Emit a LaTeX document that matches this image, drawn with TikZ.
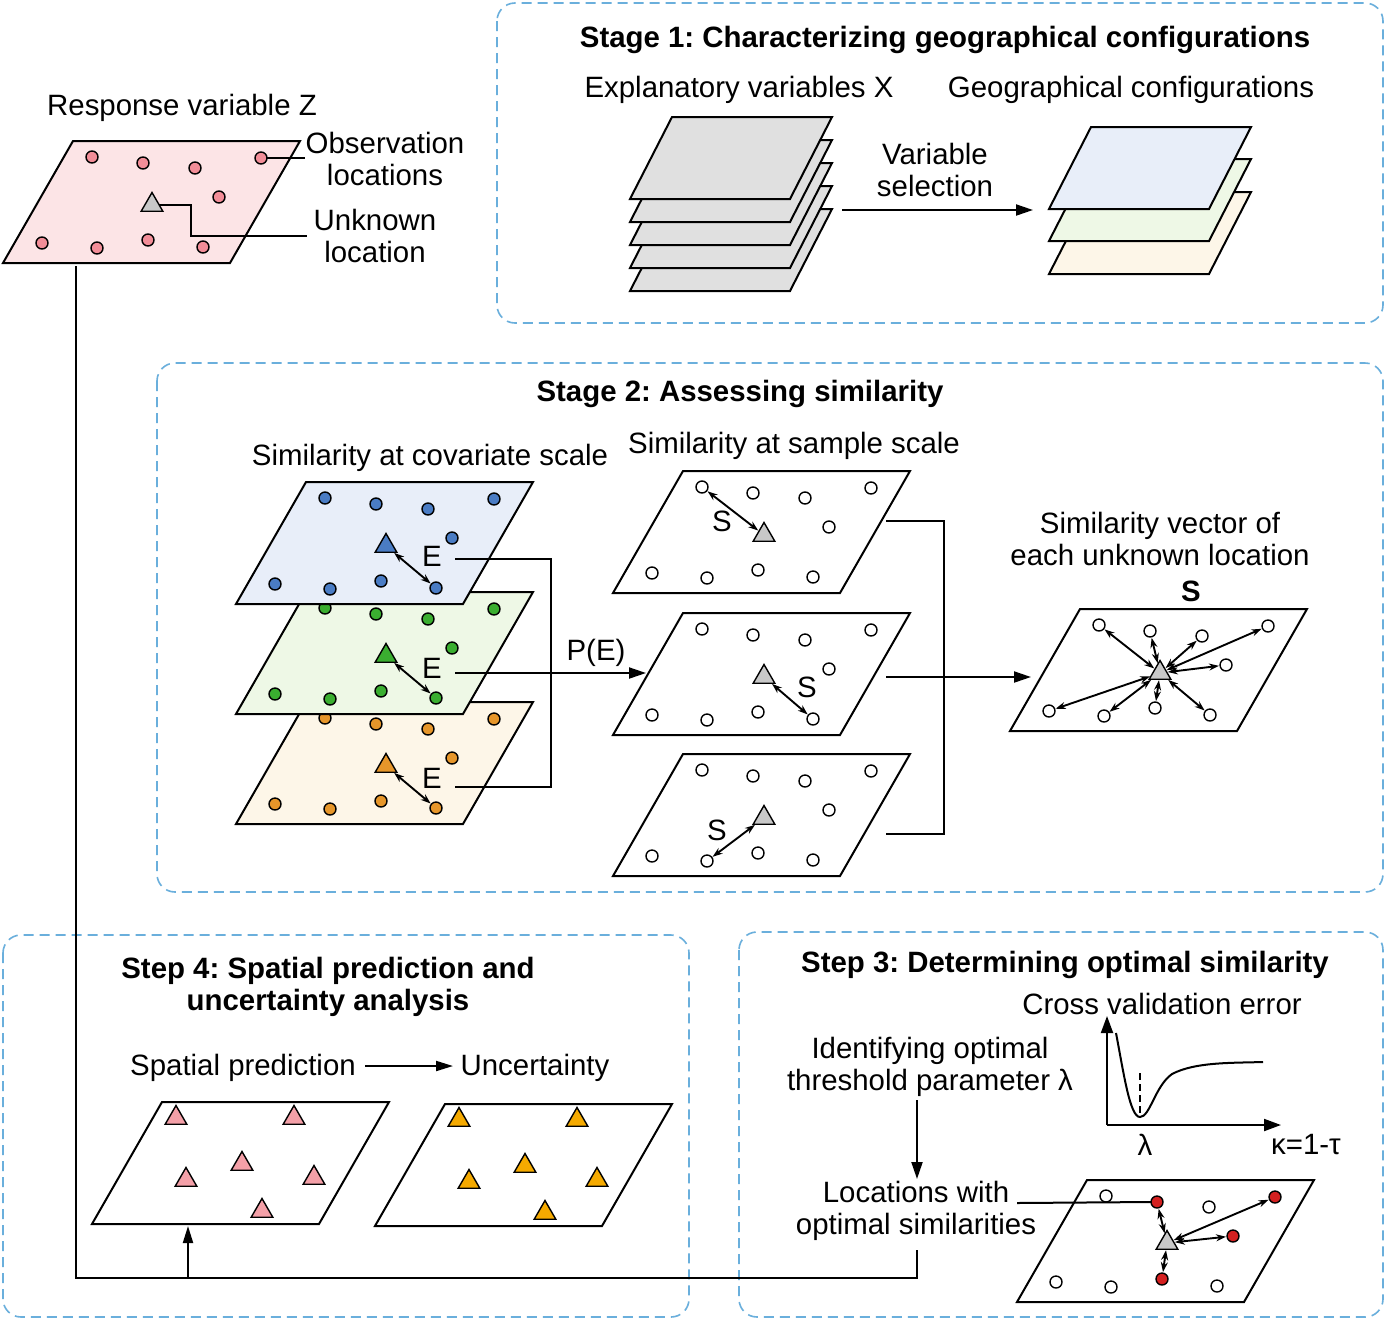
\documentclass[tikz,border=0pt]{standalone}
\usepackage{fontspec}
\setmainfont{Liberation Sans}
\usetikzlibrary{shapes.geometric,arrows.meta}
\definecolor{dashblue}{HTML}{6AAFDC}
\definecolor{planepink}{HTML}{FCE4E6}
\definecolor{dotpink}{HTML}{F28D98}
\definecolor{planeblue}{HTML}{E8EEF9}
\definecolor{dotblue}{HTML}{4A7CC4}
\definecolor{planegreen}{HTML}{EEF8E6}
\definecolor{dotgreen}{HTML}{3AAE30}
\definecolor{planeorange}{HTML}{FDF6E8}
\definecolor{dotorange}{HTML}{E6962A}
\definecolor{planegray}{HTML}{E0E0E0}
\definecolor{trigray}{HTML}{C8C8C8}
\definecolor{reddot}{HTML}{D42020}
\definecolor{tripink}{HTML}{F4A0A8}
\definecolor{triorange}{HTML}{F5AA00}
\newcommand\bigplane[1]{\draw[planeline,fill=#1] (0,0) -- (227,0) -- (297,-122) -- (70,-122) -- cycle;}
\newcommand\smallplane[1]{\draw[planeline,fill=#1] (0,0) -- (160,0) -- (202,-82) -- (42,-82) -- cycle;}
\newcommand\ninedots[2]{\foreach \dx/\dy [count=\i] in {89/-106,140/-100,192/-95,258/-105,216/-66,39/-20,94/-15,145/-23,200/-16}{\node[dot,fill=#2] (#1\i) at (\dx,\dy) {};}}
\newcommand\sixtris[2]{\foreach \dx/\dy [count=\i] in {84/-106,202/-106,150/-60,94/-44,222/-46,170/-13}{\node[tri,fill=#2] (#1\i) at (\dx,\dy) {};}}
\frenchspacing
\begin{document}
\begin{tikzpicture}[x=1pt,y=-1pt,
  font=\fontsize{29.4}{32}\selectfont\frenchspacing,
  every node/.style={inner sep=0pt,outer sep=0pt},
  txt/.style={align=center},
  bold/.style={align=center,font=\fontsize{29.4}{32}\selectfont\bfseries\frenchspacing},
  planeline/.style={draw=black,line width=2pt,line join=miter},
  dot/.style={circle,draw=black,line width=1.4pt,minimum size=12pt},
  tri/.style={regular polygon,regular polygon sides=3,draw=black,line width=1.4pt,minimum size=25pt},
  dashbox/.style={draw=dashblue,line width=1.6pt,dash pattern=on 10pt off 6pt,rounded corners=18pt},
  conn/.style={line width=2pt},
  arr/.style={conn,-{Triangle[length=17pt,width=11pt]}},
  axarr/.style={conn,-{Triangle[length=17pt,width=12pt]}},
  darr/.style={line width=1.9pt,{Stealth[length=10pt,width=7pt]}-{Stealth[length=10pt,width=7pt]},shorten >=1pt,shorten <=1pt}]
\useasboundingbox (0,0) rectangle (1386,1320);
\fill[white] (0,0) rectangle (1386,1320);

% dashed boxes
\draw[dashbox] (497,3) rectangle (1383,323);
\draw[dashbox] (157,363) rectangle (1383,892);
\draw[dashbox] (3,935) rectangle (689,1317);
\draw[dashbox] (739,932) rectangle (1383,1317);

% ---------- Response variable ----------
\node[txt] (rz) at (182,108) {Response variable Z};
\begin{scope}[shift={(3,263)}]
  \bigplane{planepink}
  \ninedots{z}{dotpink}
  \node[tri,fill=trigray] (zt) at (149,-58) {};
\end{scope}
\node[txt] (obs) at (385,159) {Observation\\locations};
\node[txt] (unk) at (375,236) {Unknown\\location};
\coordinate (obsend) at (305,158);
\coordinate (unkend) at (307,236);
\draw[conn] (z4.east) -- (obsend);
\draw[conn] (zt.east) -| (191,236) -- (unkend);

% ---------- Stage 1 ----------
\node[bold] (s1title) at (945,40) {Stage 1: Characterizing geographical configurations};
\node[txt] (expl) at (739,90) {Explanatory variables X};
\node[txt] (geo) at (1131,90) {Geographical configurations};
\foreach \k in {4,3,2,1,0}{
  \begin{scope}[shift={(630,199+23*\k)}]\smallplane{planegray}\end{scope}}
\begin{scope}[shift={(1049,274)}]\smallplane{planeorange}\end{scope}
\begin{scope}[shift={(1049,241)}]\smallplane{planegreen}\end{scope}
\begin{scope}[shift={(1049,209)}]\smallplane{planeblue}\end{scope}
\node[txt] (varsel) at (935,170) {Variable\\selection};
\coordinate (vs1) at (842,210);
\coordinate (vs2) at (1033,210);
\draw[arr] (vs1) -- (vs2);

% ---------- Stage 2 ----------
\node[bold] (s2title) at (740,394) {Stage 2: Assessing similarity};
\node[txt] (cov) at (430,458) {Similarity at covariate scale};
\node[txt] (samp) at (794,446) {Similarity at sample scale};

\begin{scope}[shift={(236,824)}]
  \bigplane{planeorange}
  \ninedots{co}{dotorange}
  \node[tri,fill=dotorange] (cot) at (150,-58) {};
\end{scope}
\begin{scope}[shift={(236,714)}]
  \bigplane{planegreen}
  \ninedots{cg}{dotgreen}
  \node[tri,fill=dotgreen] (cgt) at (150,-58) {};
\end{scope}
\begin{scope}[shift={(236,604)}]
  \bigplane{planeblue}
  \ninedots{cb}{dotblue}
  \node[tri,fill=dotblue] (cbt) at (150,-58) {};
\end{scope}
\draw[darr] (cbt) -- (cb9);
\draw[darr] (cgt) -- (cg9);
\draw[darr] (cot) -- (co9);
\node (E1) at (432,556) {E};
\node (E2) at (432,668) {E};
\node (E3) at (432,778) {E};
\coordinate (e1) at (455,559);
\coordinate (e2) at (455,673);
\coordinate (e3) at (455,787);
\coordinate (pein) at (646,673);
\draw[conn] (e1) -| (551,787) -- (e3);
\draw[arr] (e2) -- (pein);
\node (PE) at (596,653) {P(E)};

\begin{scope}[shift={(613,593)}]
  \bigplane{white}
  \ninedots{ma}{white}
  \node[tri,fill=trigray] (mat) at (151,-58) {};
\end{scope}
\begin{scope}[shift={(613,735)}]
  \bigplane{white}
  \ninedots{mb}{white}
  \node[tri,fill=trigray] (mbt) at (151,-58) {};
\end{scope}
\begin{scope}[shift={(613,876)}]
  \bigplane{white}
  \ninedots{mc}{white}
  \node[tri,fill=trigray] (mct) at (151,-58) {};
\end{scope}
\draw[darr] (ma1) -- (mat);
\draw[darr] (mbt) -- (mb9);
\draw[darr] (mct) -- (mc7);
\node (S1) at (722,521) {S};
\node (S2) at (807,687) {S};
\node (S3) at (717,830) {S};
\coordinate (m1) at (886,521);
\coordinate (m2) at (886,677);
\coordinate (m3) at (886,834);
\coordinate (svin) at (1031,677);
\draw[conn] (m1) -| (944,834) -- (m3);
\draw[arr] (m2) -- (svin);

\node[txt] (svtext) at (1160,539) {Similarity vector of\\each unknown location};
\node[bold] (Sbold) at (1191,591) {S};
\begin{scope}[shift={(1010,731)}]
  \bigplane{white}
  \ninedots{sv}{white}
  \node[tri,fill=trigray] (svt) at (150,-58) {};
\end{scope}
\foreach \i in {1,...,9}{\draw[darr] (svt) -- (sv\i);}

% ---------- Step 4 ----------
\node[bold] (s4title) at (328,987) {Step 4: Spatial prediction and\\uncertainty analysis};
\node (sp) at (243,1068) {Spatial prediction};
\node (unc) at (535,1068) {Uncertainty};
\coordinate (spa) at (365,1066);
\coordinate (spb) at (453,1066);
\draw[conn,-{Triangle[length=17pt,width=10pt]}] (spa) -- (spb);
\begin{scope}[shift={(92,1224)}]
  \bigplane{white}
  \sixtris{pa}{tripink}
\end{scope}
\begin{scope}[shift={(375,1226)}]
  \bigplane{white}
  \sixtris{pb}{triorange}
\end{scope}

% ---------- Step 3 ----------
\node[bold] (s3title) at (1065,965) {Step 3: Determining optimal similarity};
\node (cve) at (1162,1004) {Cross validation error};
\node[txt] (idt) at (930,1067) {Identifying optimal\\threshold parameter λ};
\node[txt] (loc) at (916,1211) {Locations with\\optimal similarities};
\coordinate (idto) at (917,1100);
\coordinate (loci) at (917,1179);
\draw[arr] (idto) -- (loci);
\coordinate (ax0) at (1107,1125);
\coordinate (axy) at (1107,1016);
\coordinate (axx) at (1281,1125);
\draw[axarr] (ax0) -- (axy);
\draw[axarr] (ax0) -- (axx);
\draw[conn] (1116,1033) .. controls (1124,1075) and (1130,1117) .. (1140,1117)
  .. controls (1150,1117) and (1155,1086) .. (1172,1074)
  .. controls (1195,1062) and (1230,1063) .. (1263,1062);
\draw[conn,dash pattern=on 7pt off 4pt] (1140,1073) -- (1140,1117);
\node (lam) at (1145,1145) {λ};
\node (kap) at (1306,1145) {κ=1-τ};

\begin{scope}[shift={(1017,1302)}]
  \bigplane{white}
  \foreach \dx/\dy/\c [count=\i] in {89/-106/white,140/-100/reddot,192/-95/white,258/-105/reddot,216/-66/reddot,39/-20/white,94/-15/white,145/-23/reddot,200/-16/white}{\node[dot,fill=\c] (op\i) at (\dx,\dy) {};}
  \node[tri,fill=trigray] (opt) at (150,-59) {};
\end{scope}
\foreach \i in {2,4,5,8}{\draw[darr] (opt) -- (op\i);}
\coordinate (locw) at (1017,1203);
\draw[conn] (locw) -- (op2.west);

% ---------- bottom connection ----------
\coordinate (zdown) at (76,266);
\coordinate (locbot) at (917,1250);
\coordinate (jn) at (188,1278);
\coordinate (sptip) at (188,1226);
\draw[conn] (zdown) |- (917,1278) -- (locbot);
\draw[conn,-{Triangle[length=17pt,width=10pt]}] (jn) -- (sptip);
\end{tikzpicture}
\end{document}
